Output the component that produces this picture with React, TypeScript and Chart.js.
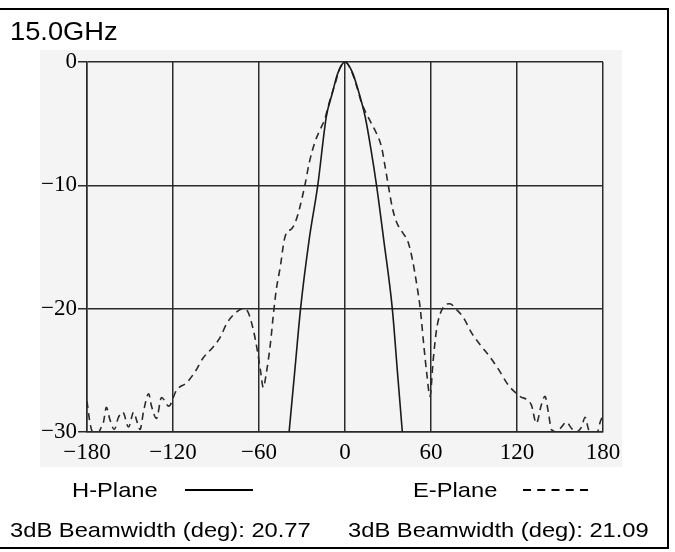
import React, { useEffect, useRef } from 'react';
import { Chart, registerables } from 'chart.js';

Chart.register(...registerables);

// ---- data ----
const titleText = '15.0GHz';
const xTickValues = [-180, -120, -60, 0, 60, 120, 180];
const yTickValues = [-30, -20, -10, 0];

const hAngles = [-39, -35, -31, -25, -19, -13, -9, -5, 0, 5, 9, 14, 18, 22, 27, 33, 36.5, 40];
const hValues = [-30, -25, -20, -14.4, -10, -4.4, -2.6, -0.9, 0, -0.8, -2.2, -4.4, -7, -10, -14.4, -20, -25, -30];

const eAngles = [
  -180, -178, -176, -172, -170, -168.5, -166.5, -164, -161, -158, -155, -151, -147.5, -145, -143,
  -140.5, -137, -135, -131.5, -128, -123, -117.5, -110.5, -104.5, -99, -92, -87, -82.5, -76, -71,
  -68, -64, -61, -59, -57, -55, -52, -50, -48, -45, -42.5, -40, -38, -35, -32, -28, -25, -21, -17,
  -14, -11, -7, -3.5, 0, 4, 8, 11.5, 15, 18.5, 22, 25.5, 28, 30.5, 33, 36, 40, 44, 47, 50, 52.5, 55,
  57, 59.3, 61.5, 64, 68.5, 73, 78, 82.5, 88.5, 95.5, 101, 107, 114, 122, 130, 133.5, 137, 139.5,
  142, 144, 148, 151, 154.5, 158, 161, 165, 167.5, 170, 173, 176, 178, 180,
];
const eValues = [
  -27.5, -29.2, -30, -30, -29.6, -29.2, -28.0, -29.0, -29.8, -28.8, -28.4, -29.6, -28.4, -29.2, -29.8,
  -28.3, -26.9, -27.9, -28.9, -27.2, -27.9, -26.6, -26.0, -25.1, -24.0, -23.1, -22.3, -21.2, -20.3, -20.0,
  -20.2, -21.7, -23.5, -25.0, -26.4, -25.3, -22.8, -20.5, -18.5, -16.5, -14.5, -13.7, -13.6, -13.1, -12.0,
  -10.0, -8.2, -6.5, -5.4, -4.6, -3.3, -1.8, -0.5, 0, -0.6, -1.9, -3.3, -4.2, -5.0, -5.8, -6.9, -8.5,
  -10.2, -11.8, -13.0, -13.8, -14.6, -16.0, -18.0, -20.0, -23.0, -25.2, -27.1, -24.2, -21.6, -19.9,
  -19.6, -20.1, -20.7, -22.0, -23.1, -23.9, -24.9, -26.2, -27.1, -27.8, -29.3, -27.8, -27.1, -28.5,
  -29.8, -30, -29.6, -29.2, -29.7, -30, -29.6, -28.8, -29.8, -30, -30, -29.2, -28.6,
];

const hLabel = 'H-Plane';
const eLabel = 'E-Plane';
const hBeam = '3dB Beamwidth (deg): 20.77';
const eBeam = '3dB Beamwidth (deg): 21.09';

const fmt = (v: number) => (v < 0 ? '\u2212' + Math.abs(v) : String(v));

function drawText(ctx: CanvasRenderingContext2D, text: string, x: number, y: number, size: number, sx: number) {
  ctx.save();
  ctx.font = `${size}px "Liberation Sans", Arial, sans-serif`;
  ctx.fillStyle = '#000';
  ctx.textBaseline = 'alphabetic';
  ctx.textAlign = 'left';
  ctx.translate(x, y);
  ctx.scale(sx, 1);
  ctx.fillText(text, 0, 0);
  ctx.restore();
}

const decorPlugin = {
  id: 'decor',
  beforeDraw(chart: any) {
    const ctx: CanvasRenderingContext2D = chart.ctx;
    ctx.save();
    ctx.fillStyle = '#ffffff';
    ctx.fillRect(0, 0, chart.width, chart.height);
    ctx.fillStyle = '#f4f4f4';
    ctx.fillRect(40, 50, 582, 417);
    ctx.restore();
  },
  afterDraw(chart: any) {
    const ctx: CanvasRenderingContext2D = chart.ctx;
    ctx.save();
    // frame
    ctx.strokeStyle = '#000';
    ctx.lineWidth = 2;
    ctx.strokeRect(-2, 9, 670, 539);
    // title
    drawText(ctx, titleText, 10, 40, 25.5, 1.07);
    // legend
    drawText(ctx, hLabel, 72, 496.5, 21, 1.13);
    drawText(ctx, eLabel, 413, 496.5, 21, 1.13);
    ctx.strokeStyle = '#000';
    ctx.lineWidth = 2;
    ctx.beginPath();
    ctx.moveTo(185, 490);
    ctx.lineTo(253, 490);
    ctx.stroke();
    ctx.setLineDash([8, 6.25]);
    ctx.beginPath();
    ctx.moveTo(523, 490);
    ctx.lineTo(588, 490);
    ctx.stroke();
    ctx.setLineDash([]);
    // beamwidths
    drawText(ctx, hBeam, 10, 536.5, 21, 1.13);
    drawText(ctx, eBeam, 348, 536.5, 21, 1.13);
    ctx.restore();
  },
};

export default function App() {
  const ref = useRef<HTMLCanvasElement | null>(null);

  useEffect(() => {
    if (!ref.current) return;
    const tickFont = { family: '"Liberation Serif", "Times New Roman", serif', size: 23 };
    const chart = new Chart(ref.current, {
      type: 'scatter',
      data: {
        datasets: [
          {
            label: hLabel,
            data: hAngles.map((a, i) => ({ x: a, y: hValues[i] })),
            showLine: true,
            borderColor: '#1a1a1a',
            borderWidth: 1.6,
            pointRadius: 0,
            cubicInterpolationMode: 'monotone',
          },
          {
            label: eLabel,
            data: eAngles.map((a, i) => ({ x: a, y: eValues[i] })),
            showLine: true,
            borderColor: '#2a2a2a',
            borderWidth: 1.6,
            borderDash: [7, 5],
            pointRadius: 0,
            cubicInterpolationMode: 'monotone',
          },
        ],
      },
      options: {
        responsive: false,
        animation: false,
        devicePixelRatio: 1,
        layout: { padding: { left: 0, top: 62, right: 72, bottom: 80 } },
        plugins: { legend: { display: false }, tooltip: { enabled: false }, title: { display: false } },
        scales: {
          x: {
            type: 'linear',
            min: -180,
            max: 180,
            afterBuildTicks: (s: any) => {
              s.ticks = xTickValues.map((v) => ({ value: v }));
            },
            afterFit: (s: any) => {
              s.height = 40;
            },
            ticks: {
              callback: (v: any) => fmt(Number(v)),
              font: tickFont,
              color: '#000',
              padding: 7,
              maxRotation: 0,
              autoSkip: false,
            },
            grid: { color: '#2a2a2a', lineWidth: 1.5, drawTicks: false },
            border: { display: true, color: '#2a2a2a', width: 1.5 },
          },
          y: {
            type: 'linear',
            min: -30,
            max: 0,
            afterBuildTicks: (s: any) => {
              s.ticks = yTickValues.map((v) => ({ value: v }));
            },
            afterFit: (s: any) => {
              s.width = 87;
            },
            ticks: {
              callback: (v: any) => fmt(Number(v)),
              font: tickFont,
              color: '#000',
              padding: 1,
              autoSkip: false,
            },
            grid: { color: '#2a2a2a', lineWidth: 1.5, tickLength: 9 },
            border: { display: true, color: '#2a2a2a', width: 1.5 },
          },
        },
      },
      plugins: [decorPlugin],
    } as any);
    return () => chart.destroy();
  }, []);

  return (
    <div style={{ position: 'fixed', left: 0, top: 0, width: 675, height: 552, background: '#fff' }}>
      <canvas ref={ref} width={675} height={552} style={{ width: 675, height: 552, display: 'block' }} />
    </div>
  );
}
